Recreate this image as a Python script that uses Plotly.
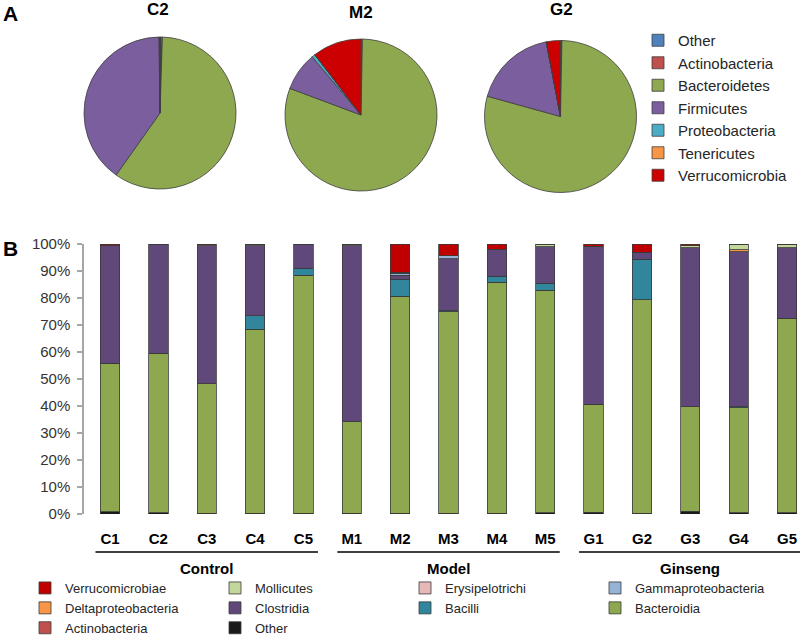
import plotly.graph_objects as go

# ---------------- data ----------------
samples = ['C1', 'C2', 'C3', 'C4', 'C5', 'M1', 'M2', 'M3', 'M4', 'M5',
           'G1', 'G2', 'G3', 'G4', 'G5']
groups = ['Control', 'Model', 'Ginseng']
group_members = [samples[0:5], samples[5:10], samples[10:15]]

# class-level relative abundance (%), stacked bottom -> top
other          = [0.9, 0.5, 0.3, 0.3, 0.3, 0.3, 0.3, 0.3, 0.3, 0.5, 0.6, 0.3, 1.0, 0.4, 0.5]
actinobacteria = [0.0, 0.0, 0.0, 0.0, 0.0, 0.0, 0.0, 0.0, 0.0, 0.0, 0.0, 0.0, 0.0, 0.0, 0.0]
bacteroidia    = [54.9, 59.0, 48.0, 68.1, 88.2, 33.9, 80.4, 74.7, 85.5, 82.4, 40.0, 79.0, 38.8, 38.9, 72.0]
bacilli        = [0.0, 0.0, 0.0, 5.0, 2.5, 0.0, 6.2, 0.2, 2.3, 2.5, 0.0, 15.1, 0.0, 0.5, 0.0]
clostridia     = [43.6, 40.3, 51.1, 26.0, 8.7, 65.2, 1.6, 19.3, 10.0, 13.6, 58.5, 2.6, 58.8, 57.3, 26.2]
deltaproteo    = [0.0, 0.0, 0.6, 0.0, 0.0, 0.0, 0.0, 0.0, 0.0, 0.0, 0.0, 0.0, 0.0, 0.8, 0.0]
gammaproteo    = [0.0, 0.2, 0.0, 0.0, 0.0, 0.0, 0.7, 1.2, 0.0, 0.0, 0.0, 0.0, 0.0, 0.0, 0.0]
erysipelotrichi = [0.0, 0.0, 0.0, 0.0, 0.3, 0.0, 0.4, 0.0, 0.0, 0.0, 0.0, 0.0, 0.0, 0.0, 0.0]
mollicutes     = [0.0, 0.0, 0.0, 0.6, 0.0, 0.6, 0.0, 0.0, 0.0, 1.0, 0.0, 0.0, 0.8, 2.1, 1.1]
verrucomicrobiae = [0.6, 0.0, 0.0, 0.0, 0.0, 0.0, 10.4, 4.3, 1.9, 0.0, 0.9, 3.0, 0.6, 0.0, 0.2]

class_names = ['Other', 'Actinobacteria', 'Bacteroidia', 'Bacilli', 'Clostridia',
               'Deltaproteobacteria', 'Gammaproteobacteria', 'Erysipelotrichi',
               'Mollicutes', 'Verrucomicrobiae']
class_values = [other, actinobacteria, bacteroidia, bacilli, clostridia,
                deltaproteo, gammaproteo, erysipelotrichi, mollicutes, verrucomicrobiae]
class_colors = ['#1A1A1A', '#C0504D', '#8DA84F', '#31859C', '#60497A',
                '#F79646', '#95B3D7', '#E6B9B8', '#C3D69B', '#C00000']

# phylum-level pies
phyla = ['Other', 'Actinobacteria', 'Bacteroidetes', 'Firmicutes',
         'Proteobacteria', 'Tenericutes', 'Verrucomicrobia']
phylum_colors = ['#4F81BD', '#C0504D', '#8DA84F', '#7B5E9E', '#4BACC6', '#F79646', '#CC0000']
pie_titles = ['C2', 'M2', 'G2']
pie_c2 = [0.5, 0.0, 59.3, 40.0, 0.2, 0.0, 0.0]
pie_m2 = [0.3, 0.0, 80.4, 8.2, 0.7, 0.0, 10.4]
pie_g2 = [0.3, 0.0, 79.0, 17.7, 0.0, 0.0, 3.0]

yticks = [0, 10, 20, 30, 40, 50, 60, 70, 80, 90, 100]
ytick_text = [f'{v}%' for v in yticks]

# ---------------- layout helpers ----------------
W, H = 800, 637
FONT = 'Liberation Sans, Arial, sans-serif'


def px_x(x):
    return x / W


def px_y(y):
    return 1 - y / H


fig = go.Figure()

# pies
pie_centers = [(160, 113), (361, 115), (560.5, 116.5)]
R = 76
for title, vals, (cx, cy) in zip(pie_titles, [pie_c2, pie_m2, pie_g2], pie_centers):
    fig.add_trace(go.Pie(
        labels=phyla, values=vals, sort=False, direction='clockwise', rotation=0,
        marker=dict(colors=phylum_colors, line=dict(color='#3F3F3F', width=0.8)),
        textinfo='none', hoverinfo='label+percent', legend='legend2',
        domain=dict(x=[px_x(cx - R), px_x(cx + R)], y=[px_y(cy + R), px_y(cy - R)]),
        name=title,
    ))

# stacked bars
for name, vals, col in zip(class_names, class_values, class_colors):
    fig.add_trace(go.Bar(
        x=samples, y=vals, name=name, width=0.4,
        marker=dict(color=col, line=dict(color='#3A3A3A', width=0.8)),
        xaxis='x', yaxis='y', legend='legend',
    ))

# x pixel mapping: C1 centre at 110 px, spacing 48.36 px
step = 48.36
x0 = 110
ax_left, ax_right = 84, 800
xr = [-(x0 - ax_left) / step, (ax_right - x0) / step]

annotations = []
shapes = []
for gi, (g, mem) in enumerate(zip(groups, group_members)):
    i0 = samples.index(mem[0])
    i1 = samples.index(mem[-1])
    c = (i0 + i1) / 2
    shapes.append(dict(type='line', xref='x', yref='paper',
                       x0=c - 2.3, x1=c + 2.3, y0=px_y(552), y1=px_y(552),
                       line=dict(color='black', width=1.6)))
    annotations.append(dict(text=g, xref='x', yref='paper', x=c, y=px_y(568),
                            showarrow=False, xanchor='center', yanchor='middle',
                            font=dict(family=FONT, size=15, color='black', weight='bold')))

for t, (cx, cy) in zip(pie_titles, [(158, 10), (361, 12), (561, 10)]):
    annotations.append(dict(text=t, xref='paper', yref='paper', x=px_x(cx), y=px_y(cy),
                            showarrow=False, xanchor='center', yanchor='middle',
                            font=dict(family=FONT, size=17, color='black', weight='bold')))
for t, (cx, cy) in zip(['A', 'B'], [(10, 13), (10, 248)]):
    annotations.append(dict(text=t, xref='paper', yref='paper', x=px_x(cx), y=px_y(cy),
                            showarrow=False, xanchor='center', yanchor='middle',
                            font=dict(family=FONT, size=21, color='black', weight='bold')))

fig.update_layout(
    width=W, height=H,
    margin=dict(l=0, r=0, t=0, b=0, pad=0, autoexpand=False),
    paper_bgcolor='white', plot_bgcolor='white',
    barmode='stack', bargap=0.6,
    font=dict(family=FONT, color='#262626'),
    xaxis=dict(domain=[px_x(ax_left), px_x(ax_right)], range=xr,
               type='category', showgrid=False, showline=False, ticks='',
               zeroline=False, ticklabelstandoff=14, automargin=False,
               tickfont=dict(family=FONT, size=15, color='black', weight='bold')),
    yaxis=dict(domain=[px_y(514), px_y(244)], range=[0, 100],
               tickmode='array', tickvals=yticks, ticktext=ytick_text,
               showgrid=False, zeroline=False, automargin=False,
               showline=True, linecolor='#A6A6A6', linewidth=1.5,
               ticks='outside', ticklen=5, tickcolor='#A6A6A6', tickwidth=1.5,
               ticklabelstandoff=4,
               tickfont=dict(family=FONT, size=15, color='#333333')),
    legend=dict(orientation='h', x=px_x(25), y=px_y(573), xanchor='left', yanchor='top',
                entrywidth=145, entrywidthmode='pixels', traceorder='reversed',
                font=dict(family=FONT, size=13, color='#262626'),
                bgcolor='rgba(0,0,0,0)'),
    legend2=dict(orientation='v', x=px_x(638), y=px_y(24), xanchor='left', yanchor='top',
                 traceorder='normal',
                 font=dict(family=FONT, size=15, color='#262626'),
                 bgcolor='rgba(0,0,0,0)'),
    showlegend=True,
    annotations=annotations,
    shapes=shapes,
)

fig.write_html(
    'out.html',
    config={'displayModeBar': False},
    post_script="document.body.style.margin='0';document.body.style.overflow='hidden';",
)
